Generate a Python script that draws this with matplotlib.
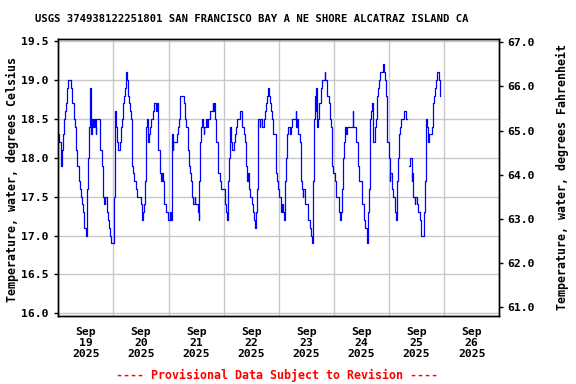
import numpy as np
import matplotlib
matplotlib.use("Agg")
import matplotlib.pyplot as plt
from matplotlib.ticker import FixedLocator, NullFormatter

# ---- data: hours since 2025-09-19 00:00, water temperature (deg C) ----
hours = [0.0, 0.3, 1.0, 1.5, 2.2, 2.6, 3.0, 3.2, 3.6, 3.9, 4.4, 5.7, 5.8, 6.8, 7.3, 7.7, 8.0,
         9.0, 9.5, 9.7, 10.2, 10.6, 11.1, 11.3, 11.9, 12.2, 12.4, 12.6, 13.1, 13.5, 14.0, 14.1,
         14.4, 14.7, 15.0, 15.4, 15.8, 16.3, 16.6, 18.0, 19.2, 19.6, 20.1, 20.3, 21.1, 21.8,
         22.2, 22.7, 23.1, 24.1, 24.6, 24.8, 25.1, 25.4, 25.9, 26.9, 27.3, 27.6, 28.0, 28.5,
         28.9, 29.3, 29.6, 30.1, 30.4, 30.8, 31.2, 31.7, 32.0, 32.2, 32.7, 33.1, 33.8, 34.3,
         36.0, 36.5, 36.9, 37.3, 37.8, 38.1, 38.5, 38.9, 39.4, 39.8, 40.2, 41.1, 41.5, 42.6,
         43.0, 43.3, 43.6, 44.4, 44.7, 45.2, 45.5, 45.9, 46.2, 47.1, 47.9, 48.5, 49.1, 49.4,
         49.7, 49.8, 50.1, 51.6, 52.0, 52.4, 52.9, 53.2, 54.8, 55.2, 55.6, 56.5, 56.8, 57.2,
         57.7, 58.1, 58.4, 58.8, 59.3, 59.5, 60.9, 61.1, 61.4, 61.9, 62.3, 62.6, 62.9, 63.3,
         63.6, 64.3, 64.6, 65.1, 66.1, 67.2, 67.5, 68.0, 68.4, 68.7, 69.7, 70.6, 71.0, 72.5,
         72.9, 73.6, 74.1, 74.4, 74.6, 74.9, 75.2, 75.7, 76.4, 76.8, 77.3, 77.7, 79.1, 80.0,
         80.9, 81.2, 81.6, 82.1, 82.5, 82.9, 83.4, 84.2, 84.7, 85.1, 85.5, 86.0, 86.4, 86.7,
         87.1, 87.6, 87.9, 88.7, 89.6, 90.0, 90.5, 90.9, 91.3, 91.8, 92.2, 92.6, 93.1, 93.5,
         94.8, 95.3, 95.7, 96.1, 97.0, 97.4, 97.9, 98.3, 98.6, 99.0, 99.5, 99.8, 100.9, 101.4,
         101.8, 103.4, 103.7, 104.0, 104.4, 105.1, 105.6, 106.0, 106.4, 106.7, 107.2, 107.6,
         108.5, 108.9, 109.8, 110.1, 110.4, 110.8, 111.2, 111.5, 111.8, 112.1, 112.4, 112.7,
         113.1, 113.6, 114.4, 114.9, 116.0, 116.3, 116.9, 117.8, 118.2, 118.6, 119.1, 119.5,
         120.4, 120.7, 121.1, 122.0, 122.4, 122.7, 123.0, 123.4, 123.7, 124.0, 124.3, 124.7,
         125.2, 125.6, 128.1, 128.5, 129.4, 129.8, 130.3, 130.7, 132.1, 132.4, 132.9, 133.3,
         133.7, 134.2, 134.5, 134.9, 135.3, 135.6, 135.9, 136.2, 136.6, 137.1, 137.9, 138.4,
         138.8, 139.3, 139.7, 140.1, 141.4, 141.7, 142.2, 142.6, 142.9, 143.3, 143.8, 144.2,
         144.6, 145.5, 145.9, 146.8, 147.2, 147.5, 147.8, 148.3, 148.8, 149.3, 150.4, 151.4,
         151.6,
         152.9, 153.3, 153.8, 154.2, 154.5, 154.6, 155.1, 155.5, 156.0, 156.4, 157.3, 157.7,
         158.1, 159.1, 159.6, 159.9, 160.3, 160.6, 160.9, 161.3, 162.6, 163.1, 163.5, 163.9,
         164.4, 164.8, 165.8, 166.0]
temps = [18.3, 18.2, 17.9, 18.1, 18.3, 18.5, 18.6, 18.7, 18.8, 18.9, 19.0, 18.9, 18.7, 18.5, 18.4, 18.1, 17.9,
         17.7, 17.6, 17.5, 17.4, 17.3, 17.2, 17.1, 17.1, 17.0, 17.1, 17.6, 18.0, 18.4, 18.9, 18.5,
         18.3, 18.5, 18.4, 18.5, 18.4, 18.3, 18.5, 18.1, 17.9, 17.5, 17.4, 17.5, 17.3, 17.2,
         17.1, 17.0, 16.9, 17.5, 17.9, 18.6, 18.4, 18.2, 18.1, 18.2, 18.4, 18.5, 18.7, 18.8,
         18.9, 19.0, 19.1, 19.0, 18.8, 18.7, 18.6, 18.5, 18.4, 17.9, 17.8, 17.7, 17.6, 17.5,
         17.4, 17.2, 17.3, 17.4, 17.7, 18.4, 18.5, 18.2, 18.3, 18.4, 18.5, 18.6, 18.7, 18.6,
         18.7, 18.4, 18.1, 17.8, 17.7, 17.8, 17.7, 17.6, 17.4, 17.3, 17.2, 17.3, 17.2, 18.0,
         18.3, 18.1, 18.2, 18.3, 18.4, 18.5, 18.7, 18.8, 18.7, 18.5, 18.4, 18.1, 17.9, 17.8,
         17.7, 17.6, 17.5, 17.4, 17.5, 17.4, 17.3, 17.2, 17.7, 18.2, 18.4, 18.5, 18.4, 18.3,
         18.4, 18.5, 18.4, 18.5, 18.6, 18.7, 18.6, 18.7, 18.5, 18.2, 17.8, 17.7, 17.6, 17.4,
         17.3, 17.2, 17.7, 18.0, 18.2, 18.4, 18.2, 18.1, 18.2, 18.3, 18.4, 18.5, 18.6, 18.4,
         18.3, 18.2, 17.9, 17.7, 17.8, 17.6, 17.5, 17.4, 17.3, 17.2, 17.1, 17.3, 17.5, 17.6,
         18.5, 18.4, 18.5, 18.4, 18.5, 18.6, 18.7, 18.8, 18.9, 18.8, 18.7, 18.6, 18.5, 18.3,
         17.8, 17.7, 17.6, 17.5, 17.3, 17.4, 17.3, 17.2, 17.7, 18.0, 18.3, 18.4, 18.3, 18.4,
         18.5, 18.6, 18.4, 18.5, 18.3, 18.2, 17.7, 17.6, 17.5, 17.6, 17.5, 17.4, 17.3, 17.2,
         17.1, 17.0, 16.9, 17.7, 18.2, 18.5, 18.8, 18.6, 18.9, 18.4, 18.5, 18.7, 18.9, 19.0,
         19.1, 19.0, 18.8, 18.7, 18.5, 18.4, 17.9, 17.8, 17.7, 17.6, 17.5, 17.4, 17.3, 17.2,
         17.3, 17.5, 17.6, 18.0, 18.2, 18.4, 18.3, 18.4, 18.6, 18.4, 18.3, 18.2, 17.9, 17.7,
         17.5, 17.4, 17.3, 17.2, 17.1, 17.0, 16.9, 17.3, 17.6, 18.0, 18.5, 18.6, 18.7, 18.2,
         18.4, 18.5, 18.8, 18.9, 19.0, 19.1, 19.2, 19.1, 19.0, 18.8, 18.6, 18.2, 18.0, 17.7,
         17.8, 17.6, 17.5, 17.3, 17.2, 17.7, 18.0, 18.3, 18.4, 18.5, 18.6, 18.5,
         np.nan,
         17.9, 18.0, 17.7, 17.8, 17.7, 17.5, 17.4, 17.5, 17.4, 17.3, 17.2, 17.1,
         17.0, 17.3, 17.7, 18.0, 18.5, 18.4, 18.2, 18.3, 18.4, 18.7, 18.8, 18.9,
         19.0, 19.1, 19.0, 18.8]

day_labels = ["Sep\n19\n2025", "Sep\n20\n2025", "Sep\n21\n2025", "Sep\n22\n2025",
              "Sep\n23\n2025", "Sep\n24\n2025", "Sep\n25\n2025", "Sep\n26\n2025"]
c_ticks = [16.0, 16.5, 17.0, 17.5, 18.0, 18.5, 19.0, 19.5]
f_ticks = [61.0, 62.0, 63.0, 64.0, 65.0, 66.0, 67.0]

title = "USGS 374938122251801 SAN FRANCISCO BAY A NE SHORE ALCATRAZ ISLAND CA"
ylab_l = "Temperature, water, degrees Celsius"
ylab_r = "Temperature, water, degrees Fahrenheit"
prov = "---- Provisional Data Subject to Revision ----"

mono = "DejaVu Sans Mono"
plt.rcParams["font.family"] = mono
plt.rcParams["font.weight"] = "bold"

fig = plt.figure(figsize=(5.76, 3.84), dpi=100)
ax = fig.add_axes([58.3 / 576, 1 - 316 / 384, 441 / 576, (316 - 39.3) / 384])

ax.plot(hours, temps, color="#0000ff", lw=0.9, drawstyle="steps-post", zorder=3)

ax.set_xlim(0, 192)
ax.set_ylim(15.965, 19.523)

ax.xaxis.set_major_locator(FixedLocator([24 * k for k in range(1, 8)]))
ax.xaxis.set_major_formatter(NullFormatter())
ax.xaxis.set_minor_locator(FixedLocator([12 + 24 * k for k in range(8)]))
ax.set_xticklabels(day_labels, minor=True, fontsize=8.2, fontweight="bold",
                   linespacing=1.1)
ax.tick_params(axis="x", which="minor", length=0, pad=8)
ax.tick_params(axis="x", which="major", length=0)

ax.set_yticks(c_ticks)
ax.set_yticklabels([f"{v:.1f}" for v in c_ticks], fontsize=8.2, fontweight="bold")
ax.tick_params(axis="y", which="major", length=3, width=1, pad=4)

ax.grid(True, which="major", color="#c8c8c8", lw=1.0, zorder=0)
ax.set_axisbelow(True)
for s in ax.spines.values():
    s.set_linewidth(1.0)
    s.set_color("black")

ax2 = ax.twinx()
ax2.set_ylim(60.803, 67.068)
ax2.set_yticks(f_ticks)
ax2.set_yticklabels([f"{v:.1f}" for v in f_ticks], fontsize=8.2, fontweight="bold")
ax2.tick_params(axis="y", length=3, width=1, pad=3)
for s in ax2.spines.values():
    s.set_linewidth(1.0)

fig.text(251.5 / 576, 1 - 19 / 384, title, ha="center", va="center",
         fontsize=7.6, fontweight="bold")
fig.text(12 / 576, 1 - 180 / 384, ylab_l, ha="center", va="center", rotation=90,
         fontsize=8.4, fontweight="bold")
fig.text(562 / 576, 1 - 177 / 384, ylab_r, ha="center", va="center", rotation=90,
         fontsize=8.4, fontweight="bold")
fig.text(277.5 / 576, 1 - 375 / 384, prov, ha="center", va="center", color="#ff0000",
         fontsize=8.4, fontweight="bold")

fig.savefig("out.png", dpi=100)
